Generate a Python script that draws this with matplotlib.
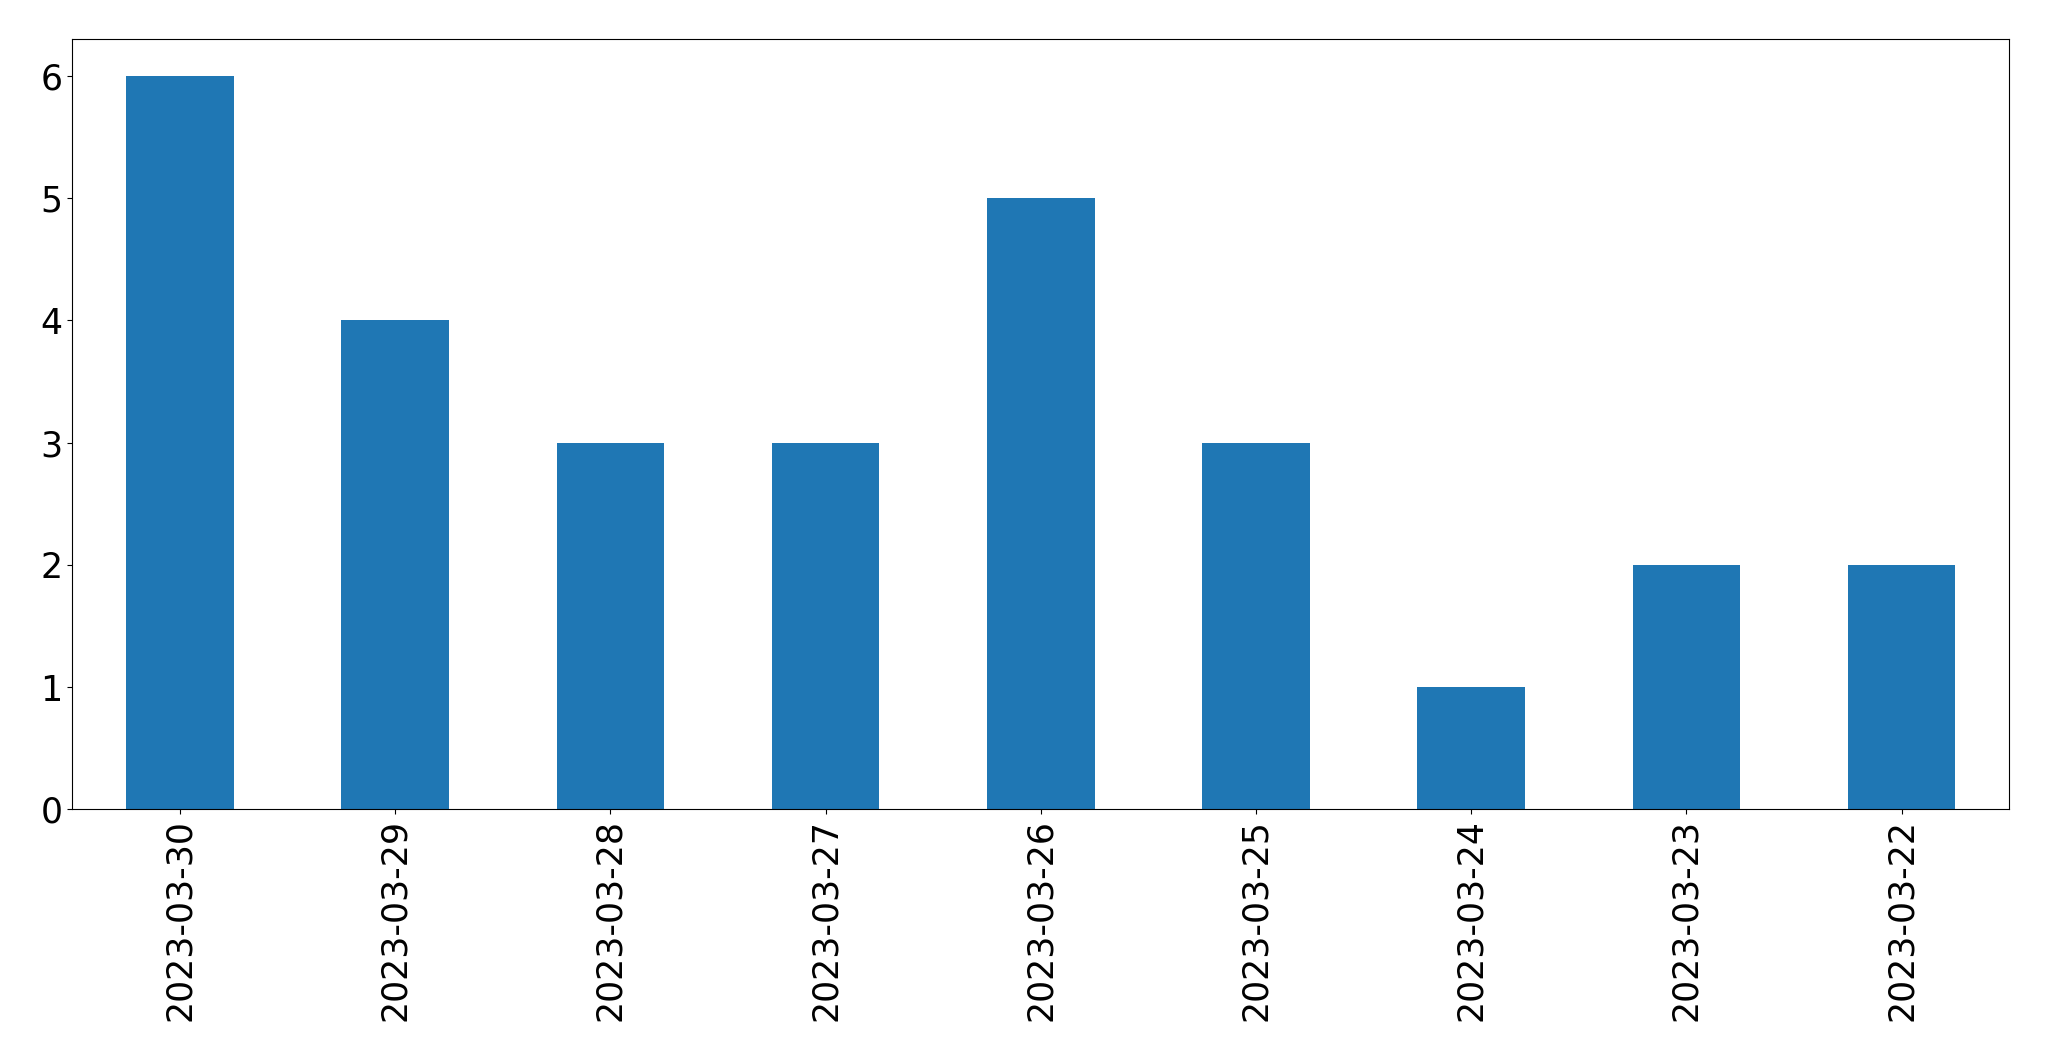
import matplotlib
matplotlib.use("Agg")
import matplotlib.pyplot as plt

dates = ["2023-03-30", "2023-03-29", "2023-03-28", "2023-03-27", "2023-03-26",
         "2023-03-25", "2023-03-24", "2023-03-23", "2023-03-22"]
counts = [6, 4, 3, 3, 5, 3, 1, 2, 2]

fig = plt.figure(figsize=(20.49, 10.61), dpi=100)
ax = fig.add_axes([72.3 / 2049, 1 - 809.3 / 1061, (2009.3 - 72.3) / 2049, (809.3 - 39.3) / 1061])
x = list(range(len(dates)))
ax.bar(x, counts, width=0.5, color="#1f77b4")
ax.set_xlim(-0.5, len(dates) - 0.5)
ax.set_ylim(0, 6.3)
ax.set_xticks(x)
ax.set_xticklabels(dates, rotation=90)
ax.tick_params(axis="both", labelsize=25)
fig.savefig("out.png", dpi=100)
